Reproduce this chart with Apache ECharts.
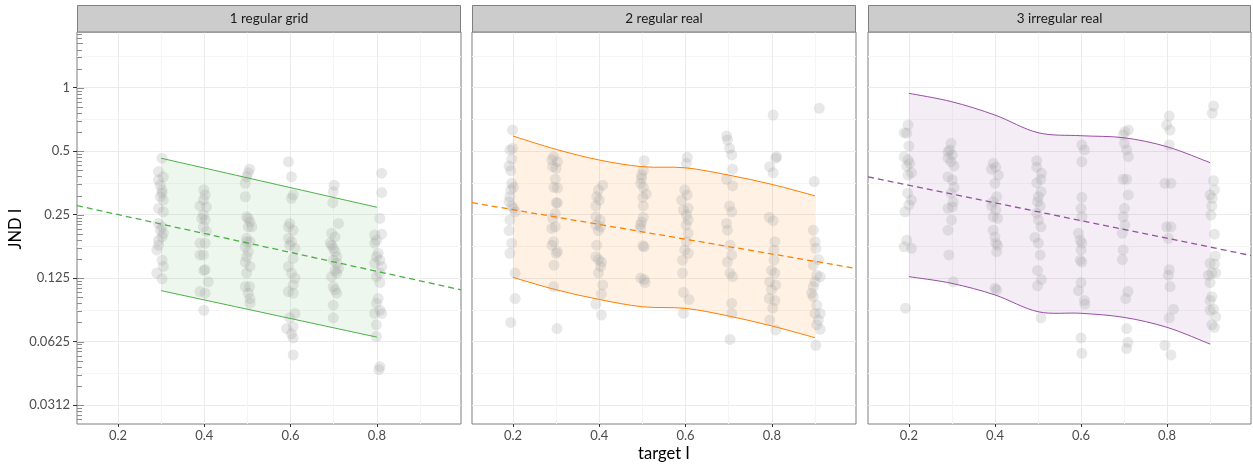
<!DOCTYPE html>
<html>
<head>
<meta charset="utf-8">
<script src="https://cdn.jsdelivr.net/npm/echarts@6.0.0/dist/echarts.min.js"></script>
<style>
  html, body { margin: 0; padding: 0; background: #fff; }
  #chart { width: 1253px; height: 466px; }
</style>
</head>
<body>
<div id="chart"></div>
<script>
/* JND vs target I, three facets, log2 y axis */
var PANELS = ["1 regular grid", "2 regular real", "3 irregular real"];
var COLORS = ["#4daf4a", "#ff7f00", "#984ea3"];

var X_RANGE = [0.105, 0.995];
var Y_RANGE = [0.0254, 1.838];
var X_TICKS = [0.2, 0.4, 0.6, 0.8];
var Y_TICK_EXP = [-5, -4, -3, -2, -1, 0];
var Y_TICK_LABELS = ["0.0312", "0.0625", "0.125", "0.25", "0.5", "1"];

// annotation log ticks (base 10 steps drawn on the log2 axis)
var LOGTICK_OCTAVES = [-6, -5, -4, -3, -2, -1, 0];
var LOGTICK_STEPS = [1, 2, 3, 4, 5, 6, 7, 8, 9];

// observations [target I, JND I]
var PTS_GRID = [
  [0.302,0.463],[0.294,0.400],[0.305,0.378],[0.294,0.365],[0.298,0.345],[0.302,0.327],[0.302,0.316],[0.298,0.304],
  [0.305,0.293],[0.294,0.268],[0.305,0.258],[0.294,0.227],[0.302,0.219],[0.298,0.211],[0.305,0.204],[0.302,0.196],
  [0.294,0.189],[0.294,0.179],[0.290,0.170],[0.302,0.152],[0.305,0.142],[0.290,0.132],[0.302,0.124],
  [0.399,0.328],[0.402,0.310],[0.398,0.294],[0.390,0.275],[0.405,0.272],[0.398,0.249],[0.394,0.240],[0.402,0.236],
  [0.398,0.219],[0.405,0.208],[0.390,0.183],[0.402,0.183],[0.398,0.161],[0.390,0.161],[0.402,0.137],[0.399,0.136],
  [0.409,0.120],[0.390,0.108],[0.402,0.106],[0.399,0.088],
  [0.505,0.411],[0.502,0.395],[0.498,0.378],[0.495,0.352],[0.495,0.304],[0.498,0.244],[0.502,0.240],[0.506,0.231],
  [0.502,0.219],[0.510,0.219],[0.498,0.193],[0.498,0.186],[0.506,0.186],[0.495,0.176],[0.502,0.167],[0.498,0.158],
  [0.495,0.149],[0.506,0.142],[0.498,0.132],[0.495,0.114],[0.505,0.114],[0.502,0.106],[0.506,0.100],[0.506,0.095],
  [0.595,0.446],[0.602,0.378],[0.606,0.310],[0.602,0.299],[0.598,0.227],[0.595,0.219],[0.606,0.211],[0.595,0.193],
  [0.602,0.186],[0.598,0.179],[0.610,0.173],[0.606,0.155],[0.595,0.142],[0.602,0.132],[0.610,0.125],[0.606,0.116],
  [0.595,0.108],[0.606,0.106],[0.610,0.085],[0.598,0.081],[0.591,0.072],[0.606,0.0735],[0.602,0.068],[0.606,0.065],
  [0.606,0.054],
  [0.701,0.345],[0.699,0.321],[0.698,0.285],[0.711,0.227],[0.695,0.204],[0.703,0.196],[0.692,0.183],[0.695,0.179],
  [0.699,0.173],[0.703,0.167],[0.707,0.158],[0.699,0.152],[0.707,0.147],[0.711,0.139],[0.703,0.136],[0.707,0.132],
  [0.695,0.127],[0.699,0.114],[0.703,0.110],[0.707,0.106],[0.699,0.093],[0.699,0.081],
  [0.811,0.393],[0.811,0.318],[0.807,0.240],[0.811,0.202],[0.795,0.200],[0.799,0.189],[0.795,0.183],[0.803,0.164],
  [0.799,0.158],[0.807,0.152],[0.795,0.147],[0.811,0.142],[0.807,0.132],[0.799,0.127],[0.807,0.119],[0.803,0.100],
  [0.799,0.095],[0.807,0.088],[0.795,0.085],[0.811,0.085],[0.799,0.075],[0.799,0.066],[0.807,0.0475],[0.805,0.046]
];

var PTS_REAL = [
  [0.199,0.630],[0.193,0.507],[0.199,0.516],[0.197,0.458],[0.191,0.425],[0.195,0.404],[0.197,0.352],[0.201,0.337],
  [0.195,0.328],[0.193,0.304],[0.191,0.288],[0.197,0.275],[0.201,0.268],[0.205,0.258],[0.193,0.236],[0.191,0.210],
  [0.197,0.183],[0.193,0.164],[0.205,0.132],[0.205,0.100],[0.195,0.077],
  [0.294,0.471],[0.290,0.455],[0.303,0.446],[0.292,0.422],[0.300,0.415],[0.298,0.368],[0.295,0.337],[0.303,0.334],
  [0.300,0.285],[0.303,0.284],[0.298,0.253],[0.292,0.240],[0.290,0.215],[0.298,0.219],[0.294,0.186],[0.290,0.179],
  [0.303,0.167],[0.300,0.164],[0.295,0.144],[0.294,0.114],[0.302,0.072],
  [0.408,0.345],[0.398,0.328],[0.394,0.304],[0.400,0.293],[0.392,0.275],[0.392,0.244],[0.402,0.236],[0.392,0.223],
  [0.403,0.219],[0.398,0.210],[0.394,0.179],[0.392,0.158],[0.398,0.153],[0.405,0.149],[0.403,0.142],[0.398,0.132],
  [0.408,0.116],[0.405,0.105],[0.392,0.094],[0.405,0.0835],
  [0.504,0.451],[0.502,0.405],[0.498,0.385],[0.498,0.372],[0.496,0.352],[0.502,0.337],[0.509,0.314],[0.501,0.302],
  [0.502,0.275],[0.502,0.243],[0.498,0.231],[0.495,0.223],[0.496,0.215],[0.501,0.178],[0.504,0.176],[0.496,0.125],
  [0.504,0.123],[0.506,0.119],
  [0.604,0.468],[0.602,0.438],[0.598,0.328],[0.604,0.310],[0.591,0.293],[0.606,0.268],[0.595,0.263],[0.602,0.249],
  [0.606,0.236],[0.601,0.223],[0.606,0.204],[0.602,0.186],[0.598,0.170],[0.606,0.164],[0.593,0.152],[0.593,0.132],
  [0.595,0.107],[0.608,0.099],[0.595,0.085],
  [0.695,0.590],[0.697,0.565],[0.702,0.516],[0.707,0.480],[0.709,0.411],[0.695,0.368],[0.709,0.342],[0.702,0.275],
  [0.707,0.258],[0.695,0.227],[0.697,0.211],[0.703,0.179],[0.707,0.161],[0.697,0.149],[0.703,0.132],[0.709,0.127],
  [0.707,0.095],[0.707,0.085],[0.703,0.064],
  [0.803,0.742],[0.811,0.471],[0.809,0.463],[0.795,0.422],[0.803,0.395],[0.794,0.243],[0.803,0.234],[0.807,0.186],
  [0.805,0.170],[0.805,0.152],[0.799,0.136],[0.807,0.132],[0.795,0.120],[0.809,0.116],[0.799,0.110],[0.794,0.100],
  [0.807,0.098],[0.802,0.090],[0.795,0.079],[0.809,0.071],
  [0.910,0.799],[0.898,0.359],[0.896,0.211],[0.900,0.186],[0.902,0.173],[0.908,0.153],[0.896,0.144],[0.904,0.129],
  [0.912,0.127],[0.900,0.120],[0.896,0.114],[0.892,0.106],[0.896,0.102],[0.904,0.093],[0.912,0.085],[0.900,0.085],
  [0.908,0.079],[0.904,0.075],[0.912,0.0715],[0.902,0.060]
];

var PTS_IRREG = [
  [0.198,0.666],[0.189,0.612],[0.195,0.609],[0.200,0.529],[0.189,0.471],[0.198,0.455],[0.202,0.438],[0.195,0.425],
  [0.206,0.395],[0.198,0.385],[0.197,0.316],[0.206,0.293],[0.200,0.278],[0.191,0.258],[0.195,0.189],[0.189,0.176],
  [0.206,0.173],[0.192,0.090],
  [0.298,0.545],[0.295,0.507],[0.291,0.497],[0.301,0.480],[0.291,0.463],[0.298,0.446],[0.305,0.425],[0.291,0.378],
  [0.301,0.365],[0.305,0.337],[0.298,0.316],[0.291,0.268],[0.303,0.288],[0.301,0.272],[0.299,0.236],[0.291,0.211],
  [0.293,0.161],[0.303,0.120],
  [0.396,0.438],[0.402,0.420],[0.392,0.411],[0.408,0.385],[0.400,0.352],[0.404,0.304],[0.396,0.288],[0.392,0.275],
  [0.402,0.263],[0.396,0.244],[0.406,0.240],[0.396,0.211],[0.400,0.196],[0.406,0.179],[0.402,0.183],[0.404,0.167],
  [0.404,0.110],[0.400,0.112],
  [0.497,0.451],[0.497,0.420],[0.508,0.393],[0.507,0.368],[0.497,0.354],[0.507,0.321],[0.501,0.304],[0.499,0.288],
  [0.505,0.275],[0.497,0.254],[0.501,0.236],[0.507,0.219],[0.493,0.195],[0.501,0.183],[0.505,0.161],[0.499,0.136],
  [0.508,0.123],[0.499,0.115],[0.507,0.081],
  [0.602,0.535],[0.608,0.507],[0.602,0.446],[0.602,0.302],[0.600,0.268],[0.602,0.244],[0.594,0.204],[0.598,0.189],
  [0.602,0.183],[0.600,0.170],[0.598,0.152],[0.602,0.149],[0.600,0.119],[0.594,0.109],[0.608,0.098],[0.609,0.094],
  [0.600,0.065],[0.602,0.055],
  [0.702,0.619],[0.698,0.597],[0.710,0.630],[0.701,0.545],[0.706,0.507],[0.710,0.471],[0.698,0.368],[0.706,0.368],
  [0.710,0.310],[0.701,0.268],[0.698,0.244],[0.702,0.223],[0.696,0.204],[0.698,0.170],[0.696,0.153],[0.709,0.108],
  [0.704,0.100],[0.706,0.072],[0.709,0.062],[0.706,0.058],
  [0.805,0.734],[0.799,0.666],[0.807,0.630],[0.805,0.535],[0.795,0.352],[0.809,0.352],[0.799,0.219],[0.809,0.219],
  [0.803,0.193],[0.805,0.137],[0.803,0.129],[0.807,0.114],[0.815,0.089],[0.805,0.081],[0.795,0.060],[0.809,0.054],
  [0.908,0.819],[0.905,0.756],[0.908,0.362],[0.910,0.328],[0.900,0.310],[0.905,0.299],[0.904,0.275],[0.902,0.249],
  [0.910,0.202],[0.912,0.159],[0.900,0.147],[0.910,0.146],[0.904,0.132],[0.896,0.129],[0.913,0.132],[0.900,0.119],
  [0.904,0.102],[0.900,0.098],[0.908,0.089],[0.900,0.088],[0.913,0.082],[0.904,0.075],[0.910,0.073]
];

// prediction bands
var BAND_X_GRID = [0.3, 0.8];
var BAND_HI_GRID = [0.463, 0.271];
var BAND_LO_GRID = [0.109, 0.0656];
var BAND_X = [0.2, 0.3, 0.4, 0.5, 0.6, 0.7, 0.8, 0.9];
var BAND_HI_REAL = [0.590, 0.510, 0.454, 0.422, 0.417, 0.385, 0.348, 0.307];
var BAND_LO_REAL = [0.126, 0.110, 0.0990, 0.0914, 0.0898, 0.0826, 0.0741, 0.0652];
var BAND_HI_IRREG = [0.941, 0.858, 0.742, 0.612, 0.592, 0.579, 0.525, 0.441];
var BAND_LO_IRREG = [0.127, 0.118, 0.104, 0.0866, 0.0851, 0.0814, 0.0730, 0.0608];

// fitted lines (dashed), at the panel edges
var FIT_X = [0.105, 0.995];
var FIT_GRID = [0.276, 0.110];
var FIT_REAL = [0.285, 0.139];
var FIT_IRREG = [0.378, 0.160];

var PANEL_PTS = [PTS_GRID, PTS_REAL, PTS_IRREG];
var PANEL_BX = [BAND_X_GRID, BAND_X, BAND_X];
var PANEL_HI = [BAND_HI_GRID, BAND_HI_REAL, BAND_HI_IRREG];
var PANEL_LO = [BAND_LO_GRID, BAND_LO_REAL, BAND_LO_IRREG];
var PANEL_FIT = [FIT_GRID, FIT_REAL, FIT_IRREG];

var GRID_LEFT = [77, 472, 868];
var GRID_W = [384, 384, 383];
var GRID_TOP = 32, GRID_H = 392;
var FONT = "Lato";

function lg(v) { return Math.log(v) / Math.LN2; }

function fmt(p) { return p[0].toFixed(2) + " " + p[1].toFixed(2); }

// Catmull-Rom curve through pixel points, as cubic segments (no leading M)
function curve(pts) {
  var s = "";
  for (var j = 0; j < pts.length - 1; j++) {
    var p0 = pts[j - 1] || pts[j], p1 = pts[j], p2 = pts[j + 1], p3 = pts[j + 2] || pts[j + 1];
    var c1 = [p1[0] + (p2[0] - p0[0]) / 6, p1[1] + (p2[1] - p0[1]) / 6];
    var c2 = [p2[0] - (p3[0] - p1[0]) / 6, p2[1] - (p3[1] - p1[1]) / 6];
    s += " C" + fmt(c1) + " " + fmt(c2) + " " + fmt(p2);
  }
  return s;
}

// custom series drawing the band (fill or edges) once, on its first item
function bandSeries(i, part) {
  var bx = PANEL_BX[i], hi = PANEL_HI[i], lo = PANEL_LO[i], col = COLORS[i];
  return {
    type: "custom", xAxisIndex: i, yAxisIndex: i, silent: true, z: part === "fill" ? 1 : 3,
    data: bx.map(function (x, j) { return [x, lg(lo[j]), lg(hi[j])]; }),
    encode: { x: 0, y: [1, 2] },
    renderItem: function (params, api) {
      if (params.dataIndex !== 0) return null;
      var up = bx.map(function (x, j) { return api.coord([x, lg(hi[j])]); });
      var dn = bx.map(function (x, j) { return api.coord([x, lg(lo[j])]); });
      if (part === "fill") {
        var rev = dn.slice().reverse();
        return {
          type: "path",
          shape: { pathData: "M" + fmt(up[0]) + curve(up) + " L" + fmt(rev[0]) + curve(rev) + " Z" },
          style: { fill: col, opacity: 0.1 }
        };
      }
      return {
        type: "group",
        children: [up, dn].map(function (pts) {
          return {
            type: "path",
            shape: { pathData: "M" + fmt(pts[0]) + curve(pts) },
            style: { fill: "none", stroke: col, lineWidth: 1 }
          };
        })
      };
    }
  };
}

var chart = echarts.init(document.getElementById("chart"), null, { renderer: "canvas" });

var grids = [], xAxes = [], yAxes = [], series = [], graphics = [];

PANELS.forEach(function (name, i) {
  grids.push({
    left: GRID_LEFT[i], top: GRID_TOP, width: GRID_W[i], height: GRID_H,
    show: true, borderColor: "#7f7f7f", borderWidth: 1, backgroundColor: "#fff"
  });

  xAxes.push({
    gridIndex: i, type: "value", min: X_RANGE[0], max: X_RANGE[1],
    minInterval: 0.2, maxInterval: 0.2,
    axisLine: { show: false, onZero: false },
    axisTick: { show: true, length: 3, customValues: X_TICKS, lineStyle: { color: "#333" } },
    axisLabel: {
      customValues: X_TICKS, color: "#4d4d4d", fontSize: 13, fontFamily: FONT, margin: 5,
      formatter: function (v) { return v.toFixed(1); }
    },
    splitLine: { show: true, lineStyle: { color: "#ebebeb", width: 1 } },
    minorTick: { show: false, splitNumber: 2 },
    minorSplitLine: { show: true, lineStyle: { color: "#f5f5f5", width: 1 } }
  });

  yAxes.push({
    gridIndex: i, type: "value", min: lg(Y_RANGE[0]), max: lg(Y_RANGE[1]),
    minInterval: 1, maxInterval: 1,
    axisLine: { show: false, onZero: false },
    axisTick: { show: i === 0, length: 4, customValues: Y_TICK_EXP, lineStyle: { color: "#333" } },
    axisLabel: {
      show: i === 0, customValues: Y_TICK_EXP, color: "#4d4d4d", fontSize: 13, fontFamily: FONT, margin: 7,
      formatter: function (v) {
        var k = Y_TICK_EXP.indexOf(Math.round(v));
        return k < 0 ? "" : Y_TICK_LABELS[k];
      }
    },
    splitLine: { show: true, lineStyle: { color: "#ebebeb", width: 1 } },
    minorTick: { show: false, splitNumber: 2 },
    minorSplitLine: { show: true, lineStyle: { color: "#f5f5f5", width: 1 } }
  });

  series.push(bandSeries(i, "fill"));

  series.push({
    type: "scatter", xAxisIndex: i, yAxisIndex: i, silent: true, z: 2,
    data: PANEL_PTS[i].map(function (p) { return [p[0], lg(p[1])]; }),
    symbolSize: 11,
    itemStyle: { color: "rgba(160,160,160,0.3)" }
  });

  series.push(bandSeries(i, "edge"));

  series.push({
    type: "line", xAxisIndex: i, yAxisIndex: i, silent: true, z: 3,
    data: FIT_X.map(function (x, j) { return [x, lg(PANEL_FIT[i][j])]; }),
    symbol: "none",
    lineStyle: { color: COLORS[i], width: 1.3, type: [6, 4] }
  });

  // facet strip
  graphics.push({
    type: "rect", z: 10,
    shape: { x: GRID_LEFT[i] + 0.5, y: 5.5, width: GRID_W[i] - 1, height: GRID_TOP - 5.5 },
    style: { fill: "#cccccc", stroke: "#7f7f7f", lineWidth: 1 }
  });
  graphics.push({
    type: "text", z: 11, x: GRID_LEFT[i] + GRID_W[i] / 2, y: 19,
    style: { text: name, fill: "#1a1a1a", font: "13.5px " + FONT, align: "center", verticalAlign: "middle" }
  });
});

// log ticks on the left edge of the first panel
var logTicks = [];
LOGTICK_OCTAVES.forEach(function (n) {
  LOGTICK_STEPS.forEach(function (k) {
    var p = n + Math.log(k) / Math.LN10;
    if (p > lg(Y_RANGE[0]) && p < lg(Y_RANGE[1])) logTicks.push([X_RANGE[0], p, k]);
  });
});
series.push({
  type: "custom", xAxisIndex: 0, yAxisIndex: 0, silent: true, z: 4,
  data: logTicks,
  encode: { x: 0, y: 1 },
  renderItem: function (params, api) {
    var pt = api.coord([api.value(0), api.value(1)]);
    var k = api.value(2);
    var len = k === 1 ? 7 : (k === 5 ? 6 : 5);
    var y = Math.round(pt[1]) + 0.5;
    return {
      type: "line",
      shape: { x1: pt[0], y1: y, x2: pt[0] + len, y2: y },
      style: { stroke: "#8c8c8c", lineWidth: 1 }
    };
  }
});

graphics.push({
  type: "text", x: 664, y: 454,
  style: { text: "target I", fill: "#000", font: "16.5px " + FONT, align: "center", verticalAlign: "middle" }
});
graphics.push({
  type: "text", x: 16, y: 229, rotation: Math.PI / 2,
  style: { text: "JND I", fill: "#000", font: "16.5px " + FONT, align: "center", verticalAlign: "middle" }
});

chart.setOption({
  backgroundColor: "#fff",
  animation: false,
  grid: grids,
  xAxis: xAxes,
  yAxis: yAxes,
  series: series,
  graphic: graphics
});
</script>
</body>
</html>
